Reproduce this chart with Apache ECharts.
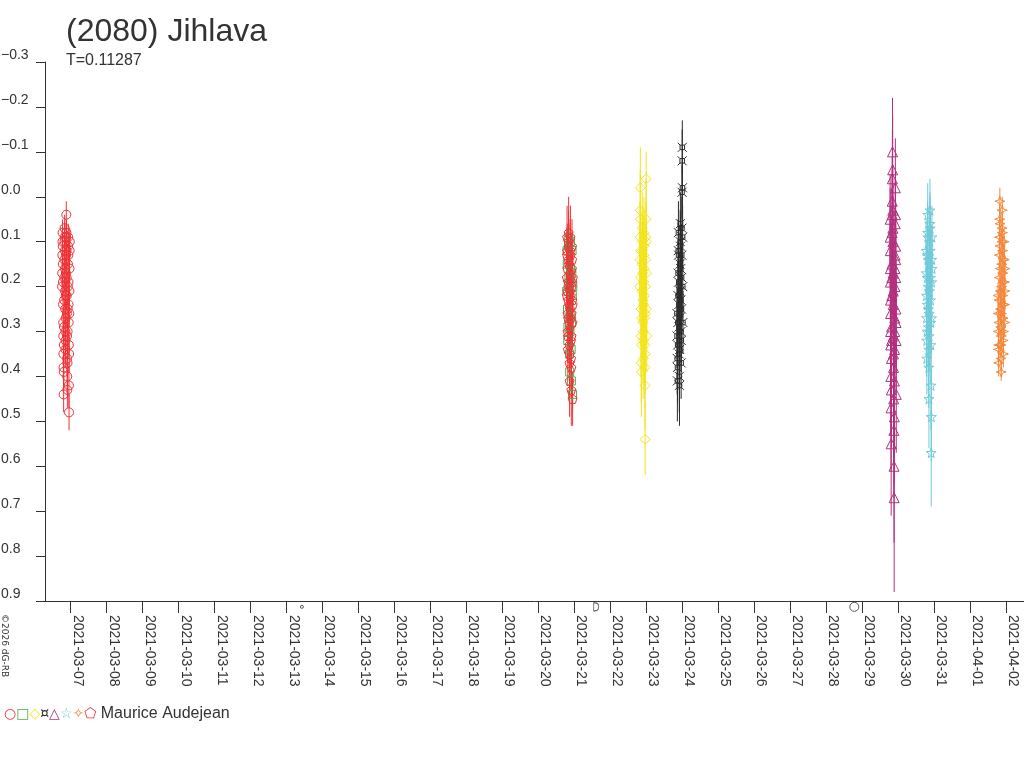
<!DOCTYPE html>
<html><head><meta charset="utf-8">
<script src="https://cdn.jsdelivr.net/npm/echarts@6/dist/echarts.min.js"></script>
<style>html,body{margin:0;padding:0;background:#fff}#c{width:1024px;height:768px}</style>
</head><body><div id="c"></div>
<script>
// ---------- texts ----------
const titleText = '(2080) Jihlava';
const subtitleText = 'T=0.11287';
const observer = 'Maurice Audejean';
const copyrightText = '©2026 dG-RB';

// ---------- axis ranges ----------
const xMin = '2021-03-06T07:00:00Z';
const xMax = '2021-04-02T12:00:00Z';
const yMin = -0.3, yMax = 0.9, yStep = 0.1;

// ---------- sessions: [hour UTC of session date, reduced mag, error] ----------
const s1Date = '2021-03-06'; // red circles
const s1 = [[18.40,0.20,0.03],[18.48,0.17,0.03],[18.56,0.13,0.03],[18.64,0.10,0.03],[18.72,0.08,0.03],[18.80,0.11,0.03],[18.88,0.15,0.03],[18.96,0.19,0.03],[19.04,0.24,0.03],[19.12,0.28,0.03],[19.20,0.31,0.03],[19.28,0.35,0.04],[19.36,0.38,0.04],[19.44,0.44,0.04],[19.52,0.39,0.04],[19.60,0.33,0.03],[19.68,0.29,0.03],[19.76,0.23,0.03],[19.84,0.18,0.03],[19.92,0.14,0.03],[20.00,0.10,0.03],[20.08,0.07,0.03],[20.16,0.09,0.03],[20.24,0.12,0.03],[20.32,0.16,0.03],[20.40,0.21,0.03],[20.48,0.25,0.03],[20.56,0.30,0.03],[20.64,0.34,0.04],[20.72,0.32,0.03],[20.80,0.27,0.03],[20.88,0.22,0.03],[20.96,0.17,0.03],[21.04,0.13,0.03],[21.12,0.09,0.03],[21.20,0.04,0.03],[21.28,0.08,0.03],[21.36,0.12,0.03],[21.44,0.18,0.03],[21.52,0.22,0.03],[21.60,0.26,0.03],[21.68,0.31,0.03],[21.76,0.36,0.04],[21.84,0.40,0.04],[21.92,0.43,0.04],[22.00,0.37,0.04],[22.08,0.30,0.03],[22.16,0.25,0.03],[22.24,0.20,0.03],[22.32,0.15,0.03],[22.40,0.11,0.03],[22.48,0.09,0.03],[22.56,0.13,0.03],[22.64,0.19,0.03],[22.72,0.24,0.03],[22.80,0.28,0.03],[22.88,0.33,0.03],[22.96,0.42,0.05],[23.04,0.48,0.04],[23.12,0.35,0.04],[23.20,0.26,0.03],[23.28,0.21,0.03],[23.36,0.16,0.03],[23.44,0.12,0.03],[23.52,0.10,0.03]];

const s2Date = '2021-03-20'; // green squares
const s2 = [[19.04,0.21,0.04],[19.20,0.12,0.04],[19.36,0.15,0.04],[19.52,0.25,0.04],[19.68,0.32,0.04],[19.84,0.29,0.04],[20.00,0.20,0.04],[20.16,0.11,0.04],[20.32,0.09,0.04],[20.48,0.18,0.04],[20.64,0.27,0.04],[20.80,0.35,0.04],[20.96,0.39,0.04],[21.12,0.30,0.04],[21.28,0.19,0.04],[21.44,0.10,0.04],[21.60,0.16,0.04],[21.76,0.26,0.04],[21.92,0.34,0.04],[22.08,0.41,0.04],[22.24,0.28,0.04],[22.40,0.17,0.04],[22.56,0.12,0.04],[22.72,0.22,0.04],[22.88,0.44,0.04],[23.04,0.20,0.04]];

const s3Date = '2021-03-22'; // yellow diamonds
const s3 = [[19.70,0.20,0.08],[19.80,0.14,0.08],[19.90,0.09,0.08],[20.00,0.03,0.09],[20.10,-0.02,0.09],[20.20,0.05,0.08],[20.30,0.12,0.08],[20.40,0.18,0.08],[20.50,0.25,0.08],[20.60,0.31,0.09],[20.70,0.37,0.09],[20.80,0.39,0.10],[20.90,0.33,0.09],[21.00,0.27,0.08],[21.10,0.21,0.08],[21.20,0.15,0.08],[21.30,0.10,0.08],[21.40,0.07,0.08],[21.50,0.12,0.08],[21.60,0.17,0.08],[21.70,0.23,0.08],[21.80,0.28,0.08],[21.90,0.32,0.09],[22.00,0.36,0.09],[22.10,0.30,0.08],[22.20,0.24,0.08],[22.30,0.19,0.08],[22.40,0.13,0.08],[22.50,0.08,0.08],[22.60,0.11,0.08],[22.70,0.16,0.08],[22.80,0.22,0.08],[22.90,0.27,0.08],[23.00,0.33,0.09],[23.10,0.38,0.09],[23.20,0.42,0.10],[23.30,0.54,0.08],[23.40,0.35,0.09],[23.50,0.26,0.08],[23.60,0.20,0.08],[23.70,0.14,0.08],[23.80,0.09,0.08],[23.90,0.05,0.09],[24.00,-0.04,0.06],[24.10,0.10,0.08],[24.20,0.17,0.08],[24.30,0.25,0.08],[24.40,0.31,0.08]];

const s4Date = '2021-03-23'; // black ¤
const s4 = [[20.50,0.26,0.07],[20.60,0.31,0.07],[20.70,0.36,0.08],[20.80,0.41,0.09],[20.90,0.38,0.08],[21.00,0.33,0.07],[21.10,0.28,0.07],[21.20,0.22,0.07],[21.30,0.17,0.07],[21.40,0.12,0.07],[21.50,0.08,0.07],[21.60,0.13,0.07],[21.70,0.19,0.07],[21.80,0.24,0.07],[21.90,0.29,0.07],[22.00,0.35,0.08],[22.10,0.40,0.08],[22.20,0.42,0.09],[22.30,0.34,0.07],[22.40,0.27,0.07],[22.50,0.21,0.07],[22.60,0.15,0.07],[22.70,0.10,0.07],[22.80,0.06,0.07],[22.90,0.11,0.07],[23.00,0.16,0.07],[23.10,0.23,0.07],[23.20,0.30,0.07],[23.30,0.37,0.08],[23.40,0.32,0.07],[23.50,0.25,0.07],[23.60,0.18,0.07],[23.70,0.13,0.07],[23.80,0.07,0.07],[23.90,-0.01,0.06],[24.00,-0.08,0.07],[24.10,-0.11,0.06],[24.20,-0.02,0.06],[24.30,0.09,0.07],[24.40,0.20,0.07],[24.50,0.28,0.07]];

const s5Date = '2021-03-29'; // purple triangles
const s5 = [[18.70,0.05,0.10],[18.75,0.09,0.11],[18.80,0.12,0.10],[18.85,0.16,0.11],[18.90,0.19,0.11],[18.95,0.23,0.11],[19.00,0.26,0.11],[19.05,0.30,0.12],[19.10,0.33,0.12],[19.20,0.40,0.13],[19.30,0.47,0.14],[19.40,0.55,0.16],[19.50,0.43,0.13],[19.60,0.36,0.12],[19.65,0.32,0.12],[19.70,0.29,0.11],[19.80,0.22,0.11],[19.85,0.18,0.11],[19.90,0.15,0.10],[20.00,0.08,0.10],[20.05,0.04,0.10],[20.10,0.01,0.10],[20.20,-0.04,0.11],[20.30,-0.10,0.12],[20.40,-0.06,0.12],[20.50,0.03,0.10],[20.55,0.07,0.10],[20.60,0.10,0.10],[20.70,0.17,0.10],[20.75,0.21,0.11],[20.80,0.24,0.11],[20.90,0.31,0.12],[20.95,0.35,0.12],[21.00,0.38,0.13],[21.10,0.45,0.14],[21.20,0.52,0.15],[21.30,0.60,0.17],[21.40,0.67,0.21],[21.50,0.49,0.15],[21.60,0.41,0.13],[21.70,0.34,0.12],[21.75,0.30,0.12],[21.80,0.27,0.11],[21.90,0.20,0.11],[21.95,0.16,0.10],[22.00,0.13,0.10],[22.10,0.06,0.10],[22.20,-0.02,0.11],[22.30,0.04,0.10],[22.40,0.11,0.10],[22.45,0.14,0.10],[22.50,0.18,0.10],[22.60,0.25,0.11],[22.65,0.28,0.11],[22.70,0.32,0.12],[22.80,0.44,0.13]];

const s6Date = '2021-03-30'; // cyan stars
const s6 = [[18.70,0.12,0.07],[18.80,0.17,0.07],[18.90,0.22,0.07],[19.00,0.27,0.07],[19.10,0.32,0.08],[19.20,0.36,0.08],[19.30,0.30,0.08],[19.40,0.24,0.07],[19.50,0.18,0.07],[19.60,0.13,0.07],[19.70,0.08,0.07],[19.80,0.04,0.07],[19.90,0.09,0.07],[20.00,0.14,0.07],[20.10,0.20,0.07],[20.20,0.25,0.07],[20.30,0.29,0.08],[20.40,0.34,0.08],[20.50,0.38,0.09],[20.60,0.45,0.11],[20.70,0.31,0.08],[20.80,0.26,0.07],[20.90,0.21,0.07],[21.00,0.15,0.07],[21.10,0.10,0.07],[21.20,0.06,0.07],[21.30,0.03,0.07],[21.40,0.07,0.07],[21.50,0.12,0.07],[21.60,0.18,0.07],[21.70,0.23,0.07],[21.80,0.28,0.08],[21.90,0.33,0.08],[22.00,0.42,0.10],[22.10,0.57,0.12],[22.20,0.49,0.10],[22.30,0.27,0.08],[22.40,0.19,0.07],[22.50,0.14,0.07],[22.60,0.09,0.07],[22.70,0.16,0.07]];

const s7Date = '2021-04-01'; // orange four-point stars
const s7 = [[18.70,0.22,0.03],[18.80,0.26,0.03],[18.90,0.30,0.03],[19.00,0.34,0.03],[19.10,0.37,0.03],[19.20,0.33,0.03],[19.30,0.28,0.03],[19.40,0.23,0.03],[19.50,0.18,0.03],[19.60,0.13,0.03],[19.70,0.09,0.03],[19.80,0.05,0.03],[19.90,0.01,0.03],[20.00,0.06,0.03],[20.10,0.11,0.03],[20.20,0.16,0.03],[20.30,0.21,0.03],[20.40,0.25,0.03],[20.50,0.29,0.03],[20.60,0.33,0.03],[20.70,0.36,0.03],[20.80,0.39,0.02],[20.90,0.31,0.03],[21.00,0.26,0.03],[21.10,0.20,0.03],[21.20,0.15,0.03],[21.30,0.10,0.03],[21.40,0.07,0.03],[21.50,0.03,0.03],[21.60,0.08,0.03],[21.70,0.12,0.03],[21.80,0.17,0.03],[21.90,0.22,0.03],[22.00,0.27,0.03],[22.10,0.32,0.03],[22.20,0.35,0.03],[22.30,0.30,0.03],[22.40,0.24,0.03],[22.50,0.19,0.03],[22.60,0.14,0.03],[22.70,0.10,0.03],[22.80,0.14,0.03],[22.90,0.19,0.03],[23.00,0.24,0.03],[23.10,0.28,0.03],[23.20,0.21,0.03],[23.30,0.16,0.03]];

const s8Date = '2021-03-20'; // red pentagons
const s8 = [[19.00,0.22,0.06],[19.08,0.18,0.06],[19.16,0.13,0.06],[19.24,0.09,0.07],[19.32,0.12,0.06],[19.40,0.16,0.06],[19.48,0.21,0.06],[19.56,0.26,0.06],[19.64,0.30,0.07],[19.72,0.34,0.07],[19.80,0.31,0.06],[19.88,0.27,0.06],[19.96,0.23,0.06],[20.04,0.19,0.06],[20.12,0.14,0.06],[20.20,0.10,0.07],[20.28,0.08,0.08],[20.36,0.11,0.06],[20.44,0.15,0.06],[20.52,0.20,0.06],[20.60,0.24,0.06],[20.68,0.28,0.06],[20.76,0.33,0.07],[20.84,0.37,0.07],[20.92,0.41,0.08],[21.00,0.35,0.07],[21.08,0.29,0.06],[21.16,0.25,0.06],[21.24,0.21,0.06],[21.32,0.17,0.06],[21.40,0.12,0.06],[21.48,0.09,0.07],[21.56,0.13,0.06],[21.64,0.18,0.06],[21.72,0.22,0.06],[21.80,0.27,0.06],[21.88,0.32,0.06],[21.96,0.36,0.07],[22.04,0.43,0.08],[22.12,0.38,0.07],[22.20,0.31,0.06],[22.28,0.26,0.06],[22.36,0.20,0.06],[22.44,0.16,0.06],[22.52,0.11,0.06],[22.60,0.14,0.06],[22.68,0.19,0.06],[22.76,0.23,0.06],[22.84,0.28,0.06],[22.92,0.45,0.06],[23.00,0.24,0.06],[23.08,0.18,0.06]];

// ---------- moon phases ----------
const moonTimes = ['2021-03-13T10:21:00Z', '2021-03-21T14:40:00Z', '2021-03-28T18:48:00Z'];
const moonPhases = ['new', 'first', 'full'];
const moonMag = 0.913;

// ---------- styles ----------
const colors = ['#ee3338', '#4caf50', '#f3e41c', '#2b2b2b', '#b3307f', '#70cbd9', '#f5873a', '#ee3338'];
const glyphs = ['○', '□', '◇', '¤', '△', '☆', '✧', '⬠'];
const SYM = {
  circle: 'circle',
  rect: 'rect',
  diamond: 'diamond',
  cur: 'path://M2.5,2.5L7.5,2.5L7.5,7.5L2.5,7.5ZM0,0L2.5,2.5M10,0L7.5,2.5M0,10L2.5,7.5M10,10L7.5,7.5',
  tri: 'triangle',
  star: 'path://M5,0L6.2,3.6L10,3.6L6.9,5.9L8.1,9.5L5,7.3L1.9,9.5L3.1,5.9L0,3.6L3.8,3.6Z',
  star4: 'path://M5,0L6.2,3.8L10,5L6.2,6.2L5,10L3.8,6.2L0,5L3.8,3.8Z',
  pent: 'path://M5,0L10,3.8L8.1,10L1.9,10L0,3.8Z'
};
const sessions = [
  {date: s1Date, pts: s1, sym: SYM.circle, size: 9},
  {date: s2Date, pts: s2, sym: SYM.rect, size: 8},
  {date: s3Date, pts: s3, sym: SYM.diamond, size: 10},
  {date: s4Date, pts: s4, sym: SYM.cur, size: 9},
  {date: s5Date, pts: s5, sym: SYM.tri, size: 10},
  {date: s6Date, pts: s6, sym: SYM.star, size: 10},
  {date: s7Date, pts: s7, sym: SYM.star4, size: 10},
  {date: s8Date, pts: s8, sym: SYM.pent, size: 9}
];

function toData(date, pts) {
  const base = Date.parse(date + 'T00:00:00Z');
  return pts.map(p => [base + p[0] * 3600000, p[1], p[2]]);
}

const series = [];
sessions.forEach((s, i) => {
  const data = toData(s.date, s.pts);
  const c = colors[i];
  series.push({
    type: 'custom', name: 'err' + i, data: data, silent: true, clip: false,
    encode: {x: 0, y: 1},
    renderItem: function (params, api) {
      const t = api.value(0), m = api.value(1), e = api.value(2);
      const a = api.coord([t, m - e]);
      const b = api.coord([t, m + e]);
      return {type: 'line', shape: {x1: a[0], y1: a[1], x2: b[0], y2: b[1]},
        style: {stroke: c, lineWidth: 1}};
    }
  });
  series.push({
    type: 'scatter', name: 'sess' + i, data: data, silent: true,
    symbol: s.sym, symbolSize: s.size,
    itemStyle: {color: 'rgba(0,0,0,0)', borderColor: c, borderWidth: 1, opacity: 1}
  });
});

const moonSym = {new: 'circle', first: 'path://M0,0L2,0C6,0 8,2.5 8,5C8,7.5 6,10 2,10L0,10Z', full: 'circle'};
const moonSize = {new: 3, first: [5, 8], full: 9};
series.push({
  type: 'scatter', name: 'moon', silent: true, clip: false,
  data: moonTimes.map((t, i) => ({
    value: [Date.parse(t), moonMag],
    symbol: moonSym[moonPhases[i]],
    symbolSize: moonSize[moonPhases[i]]
  })),
  itemStyle: {color: 'rgba(0,0,0,0)', borderColor: '#333', borderWidth: 1}
});

const rich = {t: {fontSize: 16, fill: '#333', fontFamily: 'Liberation Sans'}};
let legendText = '';
glyphs.forEach((g, i) => {
  rich['g' + i] = {fontSize: 14, fill: colors[i], fontFamily: 'DejaVu Sans'};
  legendText += '{g' + i + '|' + g + '}';
});
legendText += '{t| ' + observer + '}';

const chart = echarts.init(document.getElementById('c'), null, {renderer: 'canvas'});
chart.setOption({
  animation: false,
  backgroundColor: '#fff',
  useUTC: true,
  title: {
    text: titleText, subtext: subtitleText, left: 61, top: 11, itemGap: 5,
    textStyle: {fontSize: 32, fontWeight: 'normal', color: '#333', fontFamily: 'Liberation Sans'},
    subtextStyle: {fontSize: 16, color: '#333', fontFamily: 'Liberation Sans'}
  },
  grid: {left: 45, right: 0, top: 62, bottom: 167, containLabel: false, outerBoundsMode: 'none'},
  xAxis: {
    type: 'time', min: Date.parse(xMin), max: Date.parse(xMax),
    minInterval: 86400000, maxInterval: 86400000,
    splitLine: {show: false},
    axisLine: {onZero: false, lineStyle: {color: '#333', width: 1}},
    axisTick: {show: true, length: 12, lineStyle: {color: '#333'}},
    axisLabel: {rotate: -90, margin: 14, formatter: '{yyyy}-{MM}-{dd}', color: '#333',
      fontSize: 14, fontFamily: 'Liberation Sans', verticalAlign: 'bottom', hideOverlap: false}
  },
  yAxis: {
    type: 'value', inverse: true, min: yMin, max: yMax, interval: yStep,
    splitLine: {show: false},
    axisLine: {show: true, onZero: false, lineStyle: {color: '#333', width: 1}},
    axisTick: {show: true, length: 9, lineStyle: {color: '#333'}},
    axisLabel: {margin: 44, align: 'left', color: '#333', fontSize: 14, fontFamily: 'Liberation Sans', verticalAlign: 'bottom',
      formatter: v => (Math.abs(v) < 1e-9 ? '0.0' : (v < 0 ? '\u2212' + Math.abs(v).toFixed(1) : v.toFixed(1)))}
  },
  graphic: [
    {type: 'text', left: 4, top: 706, style: {text: legendText, rich: rich}},
    {type: 'text', x: 9, y: 614, rotation: -Math.PI / 2,
      style: {text: copyrightText, fontSize: 9, fill: '#333', fontFamily: 'DejaVu Sans', verticalAlign: 'top'}}
  ],
  series: series
});
</script>
</body></html>
